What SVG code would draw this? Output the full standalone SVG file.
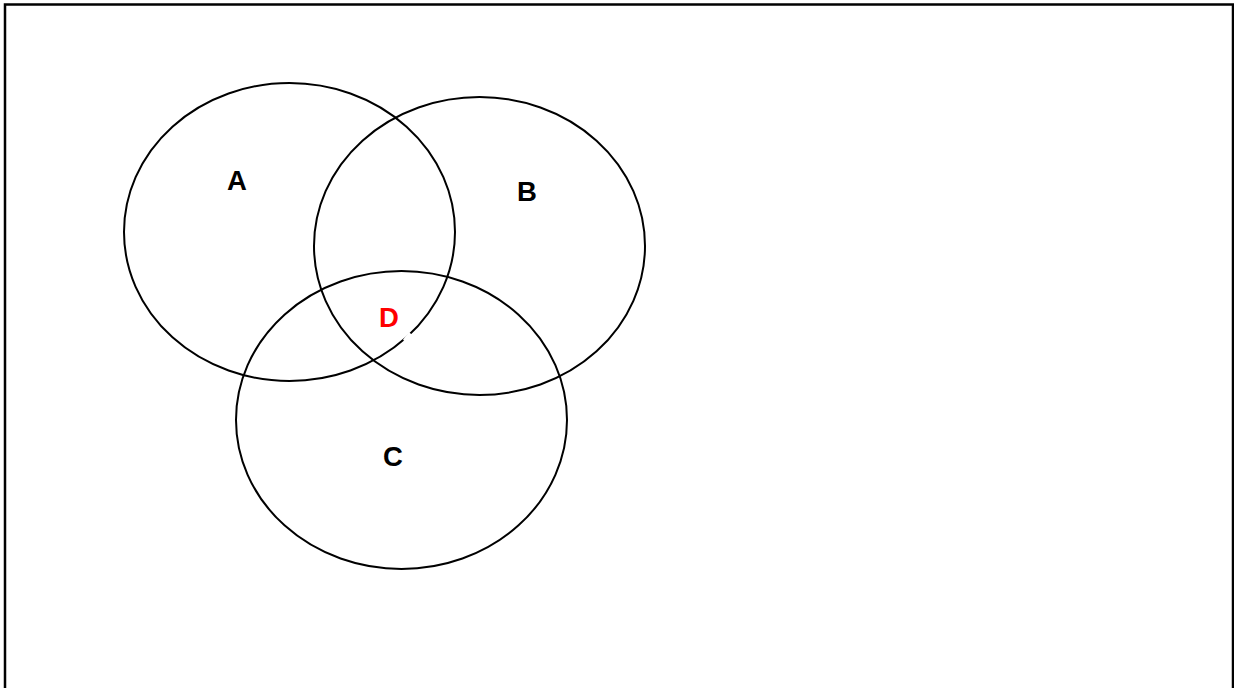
<svg xmlns="http://www.w3.org/2000/svg" width="1234" height="688" viewBox="0 0 1234 688">
  <style>
    .set { fill: none; stroke: #000; stroke-width: 2; }
    .lbl { font-family: "Liberation Sans", Arial, sans-serif; font-weight: bold; font-size: 27.5px; text-anchor: middle; fill: #000; }
  </style>
  <rect x="0" y="0" width="1234" height="688" fill="#fff"/>
  <rect x="5" y="4.5" width="1228" height="700" fill="none" stroke="#000" stroke-width="2.5"/>
  <g id="setA">
    <ellipse class="set" cx="289.5" cy="232" rx="165.5" ry="149"/>
    <text class="lbl" x="237" y="190">A</text>
  </g>
  <g id="setB">
    <ellipse class="set" cx="479.5" cy="246" rx="165.5" ry="149"/>
    <text class="lbl" x="527" y="201">B</text>
  </g>
  <g id="setC">
    <ellipse class="set" cx="401.5" cy="420" rx="165.5" ry="149"/>
    <text class="lbl" x="393" y="466">C</text>
  </g>
  <g id="labelD">
    <line x1="404.5" y1="341" x2="410.5" y2="333.5" stroke="#fff" stroke-width="4"/>
    <text class="lbl" x="389" y="327" style="fill:#ff0000">D</text>
  </g>
  <g id="connectors"></g>
</svg>
